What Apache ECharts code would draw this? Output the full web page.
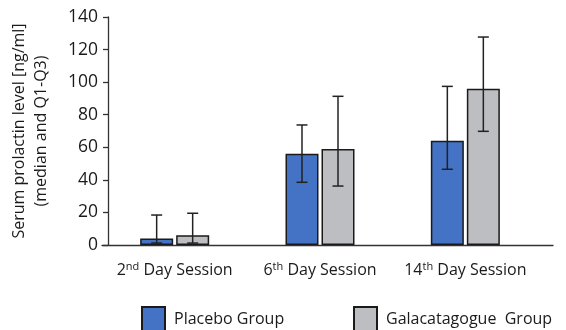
<!DOCTYPE html>
<html>
<head>
<meta charset="utf-8">
<script src="https://cdn.jsdelivr.net/npm/echarts@6/dist/echarts.min.js"></script>
<style>html,body{margin:0;padding:0;background:#fff}#c{width:566px;height:330px}</style>
</head>
<body>
<div id="c"></div>
<script>
const categories = ['2nd Day Session', '6th Day Session', '14th Day Session'];
const placebo = [4, 56, 64];
const placeboQ1 = [1.2, 38.5, 46.5];
const placeboQ3 = [18.4, 73.7, 97.4];
const galac = [6, 59, 96];
const galacQ1 = [1.2, 36.2, 69.8];
const galacQ3 = [19.5, 91.3, 127.7];
const yTicks = [0, 20, 40, 60, 80, 100, 120, 140];

const FONT = 'Open Sans';
const TXT = '#1a1a1a';
const BAR_W = 33, GAP_PX = 3;
const OFF = (BAR_W + GAP_PX) / 2;

function errorSeries(name, q1, q3, sign) {
  return {
    type: 'custom',
    name: name + ' err',
    xAxisIndex: 0, yAxisIndex: 0,
    z: 5,
    silent: true,
    data: categories.map((c, i) => [i, q1[i], q3[i]]),
    renderItem: function (params, api) {
      const lo = api.coord([api.value(0), api.value(1)]);
      const hi = api.coord([api.value(0), api.value(2)]);
      const x = lo[0] + sign * OFF;
      const cap = 5.5;
      const st = { stroke: '#222', lineWidth: 1.5 };
      return {
        type: 'group',
        children: [
          { type: 'line', shape: { x1: x, y1: lo[1], x2: x, y2: hi[1] }, style: st },
          { type: 'line', shape: { x1: x - cap, y1: hi[1], x2: x + cap, y2: hi[1] }, style: st },
          { type: 'line', shape: { x1: x - cap, y1: lo[1], x2: x + cap, y2: lo[1] }, style: st }
        ]
      };
    }
  };
}

const legendText = { fontFamily: FONT, fontSize: 16, color: TXT, padding: [0, 0, 0, 4] };

const chart = echarts.init(document.getElementById('c'), null, { renderer: 'canvas' });
chart.setOption({
  animation: false,
  textStyle: { fontFamily: FONT },
  grid: [
    { left: 102, right: 28, top: 17, bottom: 85 },
    { left: 101, right: 13, top: 17, bottom: 85 }
  ],
  legend: [
    { data: [{ name: 'Placebo Group', icon: 'rect' }], left: 136, top: 301, itemWidth: 23, itemHeight: 24,
      textStyle: legendText, selectedMode: false },
    { data: [{ name: 'Galacatagogue  Group', icon: 'rect' }], left: 348, top: 301, itemWidth: 23, itemHeight: 24,
      textStyle: legendText, selectedMode: false }
  ],
  xAxis: [
    { type: 'category', gridIndex: 0, data: categories,
      axisLine: { show: false }, axisTick: { show: false },
      axisLabel: {
        interval: 0, hideOverlap: false,
        margin: 16, color: TXT, fontSize: 16, fontFamily: FONT,
        formatter: v => v.replace(/^(\d+)(st|nd|rd|th)/, '$1{sup|$2}'),
        rich: { sup: { fontSize: 11, fontFamily: FONT, color: TXT, verticalAlign: 'top', padding: [0, 0, 8, 0] } }
      } },
    { type: 'value', gridIndex: 1, min: 0, max: 1,
      axisLine: { show: true, lineStyle: { color: '#333', width: 1.3 } },
      axisTick: { show: false }, axisLabel: { show: false }, splitLine: { show: false } }
  ],
  yAxis: [
    { type: 'value', gridIndex: 0, min: 0, max: 140, interval: 20, show: false },
    { type: 'value', gridIndex: 1, min: 0, max: 140, interval: 20, offset: -6,
      name: 'Serum prolactin level [ng/ml]\n(median and Q1-Q3)',
      nameLocation: 'middle', nameGap: 56,
      nameTextStyle: { fontFamily: FONT, fontSize: 16, color: TXT, lineHeight: 22 },
      axisLine: { show: true, lineStyle: { color: '#333', width: 1.3 } },
      axisTick: { show: true, length: 5, lineStyle: { color: '#333', width: 1.3 } },
      axisLabel: { margin: 10, color: TXT, fontSize: 17.5, fontFamily: FONT,
        formatter: v => yTicks.includes(v) ? String(v) : '' },
      splitLine: { show: false } }
  ],
  series: [
    { type: 'bar', name: 'Placebo Group', xAxisIndex: 0, yAxisIndex: 0, data: placebo,
      barWidth: BAR_W, barGap: (GAP_PX / BAR_W * 100) + '%',
      itemStyle: { color: '#4472C4', borderColor: '#1a1a1a', borderWidth: 1.5 } },
    { type: 'bar', name: 'Galacatagogue  Group', xAxisIndex: 0, yAxisIndex: 0, data: galac,
      barWidth: BAR_W,
      itemStyle: { color: '#BDBEC1', borderColor: '#1a1a1a', borderWidth: 1.5 } },
    errorSeries('Placebo Group', placeboQ1, placeboQ3, -1),
    errorSeries('Galacatagogue  Group', galacQ1, galacQ3, 1)
  ]
});
</script>
</body>
</html>
